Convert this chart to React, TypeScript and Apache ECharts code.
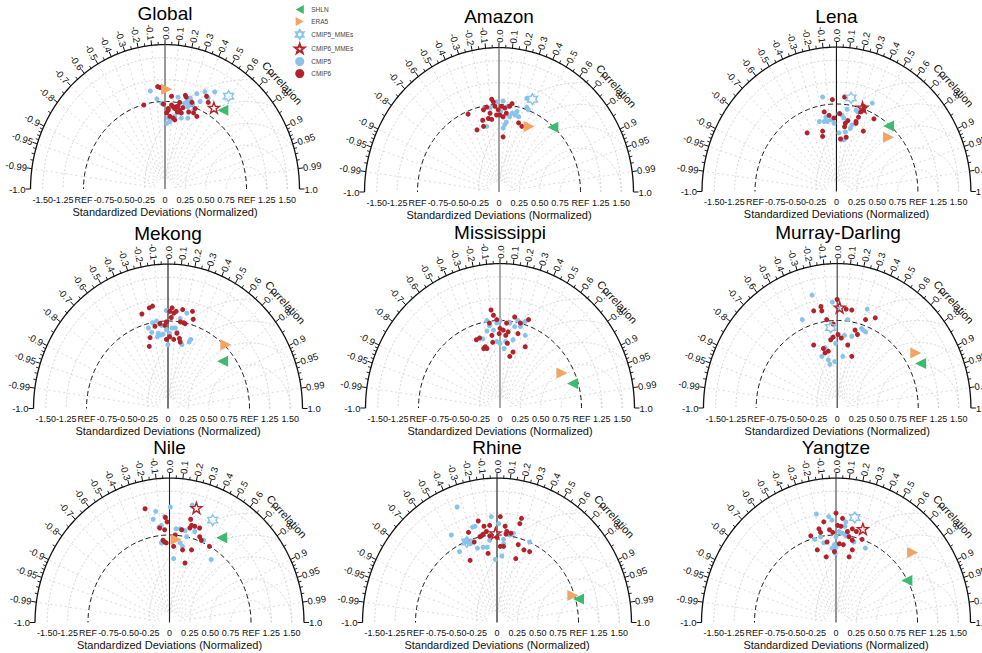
import { useEffect, useRef } from 'react';
import * as echarts from 'echarts';

// Basins, one Taylor diagram each
const basins = ['Global', 'Amazon', 'Lena', 'Mekong', 'Mississippi', 'Murray-Darling', 'Nile', 'Rhine', 'Yangtze'];

// Every point is (σ·R, σ·√(1−R²)): normalized standard deviation σ at correlation R,
// placed on the Taylor half-plane.
const globalCmip6 = [[-0.09, 1.17], [-0.06, 1.16], [-0.26, 0.96], [0.04, 0.92], [0.08, 1.06], [0.1, 0.94], [0.14, 0.94], [0.16, 0.95], [0.12, 0.92], [0.18, 0.9], [0.15, 0.88], [0.25, 1.07], [0.26, 1.05], [0.37, 0.92], [0.39, 0.83], [0.35, 0.87], [0.51, 1.06], [0.53, 0.99], [0.06, 0.83], [0.1, 0.81], [0.12, 0.79], [0.04, 0.9], [0.02, 0.87], [0.2, 0.87], [0.29, 0.88], [0.33, 0.99], [0.18, 0.99], [0.22, 0.93], [0.08, 0.96], [-0.02, 0.97]];
const globalCmip5 = [[-0.18, 1.12], [-0.1, 1.03], [-0.04, 0.98], [0.06, 0.77], [0.04, 0.81], [0.18, 0.87], [0.2, 0.81], [0.27, 1.0], [0.3, 0.96], [0.32, 1.01], [0.28, 0.94], [0.34, 0.97], [0.35, 0.9], [0.39, 1.09], [0.43, 1.0], [0.49, 1.11], [0.61, 1.11], [0.53, 1.04], [0.28, 0.81], [0.16, 1.05], [0.24, 0.98], [0.31, 1.04], [0.02, 0.75], [0.12, 0.83]];

const amazonCmip6 = [[-0.38, 0.89], [-0.27, 0.71], [-0.19, 0.75], [-0.2, 0.82], [-0.19, 0.94], [-0.07, 1.03], [-0.05, 0.98], [-0.01, 0.94], [-0.03, 0.88], [-0.11, 0.9], [-0.13, 0.84], [0.05, 0.86], [0.01, 0.88], [0.03, 0.98], [0.07, 0.96], [0.09, 0.9], [0.13, 0.98], [0.16, 1.01], [-0.09, 0.83], [-0.15, 0.97], [0.05, 0.63], [0.24, 0.79], [0.28, 0.75], [-0.09, 1.06]];
const amazonCmip5 = [[0.34, 1.07], [0.36, 0.94], [0.05, 1.04], [-0.03, 1.03], [0.09, 0.97], [0.16, 0.9], [0.2, 0.88], [0.24, 0.86], [0.22, 0.92], [-0.15, 0.75], [0.07, 0.77], [0.05, 0.73], [-0.11, 0.96], [0.34, 0.97], [0.13, 0.86], [0.09, 0.8], [0.02, 0.92]];

const lenaCmip6 = [[-0.05, 1.05], [0.1, 1.08], [-0.15, 0.91], [-0.09, 0.87], [-0.03, 0.84], [-0.36, 0.67], [-0.17, 0.69], [-0.17, 0.63], [0.11, 0.78], [0.1, 0.74], [0.14, 0.81], [0.24, 0.8], [0.24, 0.78], [0.27, 0.85], [0.3, 0.91], [0.33, 0.93], [0.34, 0.97], [0.46, 0.83], [0.33, 0.69], [0.05, 0.6], [0.12, 0.62], [0.04, 0.89]];
const lenaCmip5 = [[-0.17, 1.08], [-0.21, 0.8], [-0.15, 0.8], [-0.11, 0.8], [-0.13, 0.85], [-0.07, 0.82], [-0.03, 0.78], [0.03, 0.89], [0.07, 0.87], [0.09, 0.84], [0.13, 0.94], [0.24, 0.93], [0.26, 0.91], [0.19, 0.76], [0.17, 0.72], [0.11, 0.68], [0.03, 0.67], [0.09, 0.59], [0.44, 1.01]];

const mekongCmip6 = [[-0.32, 1.08], [-0.23, 1.15], [-0.19, 1.17], [0.05, 1.15], [0.02, 1.11], [0.07, 1.09], [0.1, 1.11], [0.18, 1.13], [0.3, 1.11], [0.15, 0.99], [0.19, 0.98], [0.21, 0.97], [0.31, 1.02], [-0.02, 0.99], [-0.04, 0.95], [-0.1, 0.97], [-0.16, 0.94], [-0.22, 0.81], [-0.23, 0.71], [0.02, 0.82], [-0.02, 0.79], [0.07, 0.79], [0.15, 0.76], [0.14, 0.8], [0.11, 0.86], [0.04, 1.04]];
const mekongCmip5 = [[-0.02, 1.12], [0.23, 1.09], [0.15, 1.03], [-0.19, 0.98], [-0.14, 1.0], [-0.24, 0.92], [-0.2, 0.87], [-0.12, 0.86], [-0.09, 0.84], [-0.06, 0.85], [-0.13, 0.82], [-0.02, 0.9], [0.05, 0.92], [0.09, 0.92], [0.02, 0.86], [0.11, 0.87], [0.0, 0.73], [0.17, 0.73], [0.26, 0.76], [0.28, 0.79], [-0.08, 0.95]];

const mississippiCmip6 = [[-0.11, 1.12], [-0.08, 1.06], [-0.04, 1.01], [-0.13, 0.97], [0.18, 1.04], [0.35, 1.01], [0.25, 0.97], [0.08, 0.97], [0.04, 0.89], [0.1, 0.87], [0.07, 0.83], [0.22, 0.85], [-0.01, 0.85], [-0.1, 0.83], [-0.09, 0.75], [-0.25, 0.8], [-0.29, 0.78], [-0.18, 0.7], [-0.16, 0.68], [-0.2, 0.68], [0.09, 0.74], [0.16, 0.64], [0.12, 0.59], [0.31, 0.7], [0.0, 0.91]];
const mississippiCmip5 = [[-0.16, 1.0], [-0.13, 0.94], [-0.16, 0.88], [-0.08, 0.89], [-0.04, 0.97], [0.0, 1.0], [0.12, 0.97], [0.22, 1.0], [0.27, 0.97], [0.31, 0.99], [0.18, 0.93], [0.25, 0.93], [0.31, 0.83], [0.16, 0.78], [0.07, 0.76], [-0.04, 0.76], [0.0, 0.74], [0.05, 0.68], [-0.21, 0.79]];

const murrayCmip6 = [[-0.29, 1.11], [-0.19, 1.11], [0.0, 1.24], [0.11, 1.13], [0.18, 1.12], [-0.13, 1.01], [-0.05, 0.96], [0.22, 0.89], [0.25, 0.84], [0.35, 1.01], [0.47, 1.03], [-0.29, 0.72], [-0.17, 0.68], [-0.11, 0.65], [-0.15, 0.63], [-0.08, 0.78], [-0.05, 0.81], [0.05, 0.8], [0.01, 0.84], [0.13, 0.72], [0.18, 0.59], [-0.2, 1.16]];
const murrayCmip5 = [[-0.31, 1.29], [-0.43, 1.01], [-0.06, 1.21], [0.01, 1.14], [0.13, 1.01], [0.37, 1.13], [0.3, 0.91], [0.35, 0.87], [0.32, 0.89], [0.18, 0.82], [0.09, 0.83], [-0.15, 0.69], [-0.19, 0.59], [-0.09, 0.5], [-0.11, 0.55], [-0.03, 0.53], [0.07, 0.59], [-0.02, 0.74]];

const nileCmip6 = [[-0.3, 1.3], [-0.03, 1.15], [0.26, 1.18], [0.27, 1.11], [0.25, 1.08], [0.31, 1.1], [0.37, 1.08], [0.37, 0.98], [0.39, 0.94], [0.49, 0.87], [0.15, 1.06], [0.07, 1.0], [-0.08, 0.94], [-0.06, 0.92], [-0.04, 0.91], [0.05, 0.87], [0.16, 0.83], [0.19, 0.68], [0.27, 0.83], [-0.12, 1.08], [-0.06, 1.06], [-0.05, 1.2]];
const nileCmip5 = [[0.01, 1.32], [-0.17, 1.27], [-0.06, 1.21], [-0.2, 1.18], [-0.1, 1.11], [-0.13, 1.09], [0.28, 1.34], [0.08, 1.07], [0.13, 1.07], [0.19, 1.05], [0.21, 0.98], [0.42, 0.94], [-0.1, 0.91], [0.13, 0.91], [0.16, 0.87], [0.05, 0.73], [0.51, 0.72], [0.31, 1.04]];

const rhineCmip6 = [[-0.23, 1.16], [-0.16, 1.1], [-0.09, 1.11], [-0.13, 1.04], [-0.17, 1.01], [-0.35, 1.03], [-0.21, 0.98], [-0.19, 0.99], [-0.28, 0.92], [0.04, 1.21], [0.1, 1.1], [0.12, 1.04], [0.11, 1.01], [0.3, 1.19], [0.28, 1.13], [0.17, 1.02], [0.04, 0.87], [0.08, 0.87], [0.26, 0.89], [0.33, 0.83], [0.4, 0.81], [-0.11, 0.79], [-0.33, 0.71], [0.23, 0.73], [-0.09, 0.99], [0.0, 0.97]];
const rhineCmip5 = [[-0.49, 1.32], [-0.07, 1.21], [0.02, 1.13], [-0.3, 1.09], [-0.27, 1.1], [-0.37, 0.95], [-0.39, 0.92], [-0.35, 0.91], [-0.33, 0.9], [-0.56, 1.0], [-0.46, 0.81], [-0.24, 0.85], [-0.17, 0.86], [-0.12, 0.86], [-0.09, 0.94], [0.08, 0.95], [0.16, 1.0], [0.2, 1.02], [0.4, 0.92], [-0.02, 0.72], [0.06, 0.76], [0.08, 0.9]];

const yangtzeCmip6 = [[0.0, 1.25], [0.08, 1.19], [-0.15, 1.15], [0.02, 1.11], [0.06, 1.1], [-0.08, 1.06], [-0.04, 1.03], [-0.21, 1.07], [-0.19, 1.03], [-0.31, 0.99], [-0.11, 0.92], [0.04, 0.9], [0.14, 1.04], [0.2, 1.07], [0.25, 1.04], [0.16, 0.98], [0.2, 0.94], [0.32, 0.95], [0.09, 0.89], [0.2, 0.83], [-0.23, 0.83], [-0.12, 0.75], [-0.02, 0.81], [0.16, 0.75]];
const yangtzeCmip5 = [[-0.24, 1.24], [-0.09, 1.21], [-0.05, 1.17], [0.12, 1.15], [0.11, 1.1], [-0.19, 0.98], [-0.26, 0.95], [-0.15, 0.91], [0.08, 1.02], [0.12, 0.99], [0.14, 1.03], [0.0, 0.98], [-0.02, 0.89], [-0.05, 0.85], [0.0, 0.86], [0.22, 0.92], [0.36, 0.85], [-0.01, 0.79], [0.04, 1.04]];

const cmip6Runs = [globalCmip6, amazonCmip6, lenaCmip6, mekongCmip6, mississippiCmip6, murrayCmip6, nileCmip6, rhineCmip6, yangtzeCmip6];
const cmip5Runs = [globalCmip5, amazonCmip5, lenaCmip5, mekongCmip5, mississippiCmip5, murrayCmip5, nileCmip5, rhineCmip5, yangtzeCmip5];

// Reference products and ensemble means, in basin order (null = not shown)
const era5 = [[0.02, 1.14], [0.37, 0.75], [0.64, 0.62], [0.71, 0.73], [0.76, 0.4], [0.97, 0.63], [0.08, 0.95], [0.93, 0.31], [0.94, 0.8]];
const shln = [[0.71, 0.9], [0.66, 0.74], [0.64, 0.75], [0.67, 0.54], [0.89, 0.28], [1.03, 0.51], [0.64, 0.97], [1.0, 0.27], [0.87, 0.48]];
const cmip5Mme = [[0.78, 1.06], [0.41, 1.06], [0.18, 1.07], null, null, [-0.08, 0.92], [0.53, 1.17], [-0.37, 0.92], [0.23, 1.2]];
const cmip6Mme = [[0.6, 0.93], null, [0.32, 0.96], null, null, [0.03, 1.15], [0.33, 1.31], [-0.02, 1.02], [0.33, 1.07]];

// Correlation scale on the outer arc
const corrTicks = [1, 0.99, 0.95, 0.9, 0.8, 0.7, 0.6, 0.5, 0.4, 0.3, 0.2, 0.1, 0, -0.1, -0.2, -0.3, -0.4, -0.5, -0.6, -0.7, -0.8, -0.9, -0.95, -0.99, -1];
const corrMinor = [0.98, 0.97, 0.96, 0.94, 0.93, 0.92, 0.91, 0.85, 0.75, 0.65, 0.55, 0.45, 0.35, 0.25, 0.15, 0.05, -0.05, -0.15, -0.25, -0.35, -0.45, -0.55, -0.65, -0.75, -0.85, -0.91, -0.92, -0.93, -0.94, -0.96, -0.97, -0.98];
const stdGuides = [1.25, 1.5];
const rmsdGuides = [0.25, 0.5, 0.75, 1, 1.25];

// Layout: origin pixel of each diagram, pixels per unit along x and y
const origins = [[165, 189], [499, 192], [836.5, 191.5], [168, 408.5], [500, 408], [838, 408], [169.5, 622.5], [497, 622.5], [836, 622.5]];
const zeroLine = [
  { color: '#8e8e8e', width: 1.8 }, { color: '#9a9a9a', width: 1.8 }, { color: '#111', width: 1.1 },
  { color: '#111', width: 1.1 }, { color: '#a0a0a0', width: 1.8 }, { color: '#333', width: 1.1 },
  { color: '#222', width: 1.1 }, { color: '#111', width: 1.1 }, { color: '#444', width: 1.1 },
];
const UX = 81.5;
const UY = 87.5;
const SPAN = 1.75;
const R_OUT = 1.65;

const FONT = '"Liberation Sans", Arial, Helvetica, sans-serif';
const RED = '#b3222a';
const BLUE = '#88c3ee';
const GREEN = '#3dba6f';
const ORANGE = '#f2a462';
const STAR = 'path://M50 0 L61.76 33.82 L97.55 34.55 L69.02 56.18 L79.39 90.45 L50 70 L20.61 90.45 L30.98 56.18 L2.45 34.55 L38.24 33.82 Z';
const HEXAGRAM = 'path://M50 0 L64.43 25 L93.3 25 L78.87 50 L93.3 75 L64.43 75 L50 100 L35.57 75 L6.7 75 L21.13 50 L6.7 25 L35.57 25 Z';
const TRI_LEFT = 'path://M0 50 L90 0 L90 100 Z';
const TRI_RIGHT = 'path://M90 50 L0 0 L0 100 Z';

const corrLabel = (c: number) =>
  Math.abs(c * 10 - Math.round(c * 10)) < 1e-9 ? c.toFixed(1) : c.toFixed(2);

const stdLabel = (v: number) => {
  if (Math.abs(Math.abs(v) - 1) < 1e-9) return 'REF';
  if (Math.abs(v) > 1.6) return '';
  if (Math.abs(v) < 1e-9) return '0';
  return v.toFixed(2);
};

// Draws the diagram frame: guides, correlation arc, ticks and their labels
function frameRenderer(zero: { color: string; width: number }) {
  return (_params: any, api: any) => {
    const o = api.coord([0, 0]);
    const at = (r: number, t: number) => api.coord([r * Math.cos(t), r * Math.sin(t)]);
    const ring = (r: number) => {
      const pts = [];
      for (let k = 0; k <= 180; k++) pts.push(at(r, (Math.PI * k) / 180));
      return pts;
    };
    const guide = { stroke: '#cdcdcd', lineWidth: 0.8, lineDash: [2, 2], fill: 'none' };
    const kids: any[] = [];

    stdGuides.forEach((r) => kids.push({ type: 'polyline', shape: { points: ring(r) }, style: guide }));
    rmsdGuides.forEach((rho) => {
      const pts = [];
      for (let k = 0; k <= 180; k++) {
        const f = (Math.PI * k) / 180;
        const x = 1 + rho * Math.cos(f);
        const y = rho * Math.sin(f);
        if (Math.hypot(x, y) <= R_OUT) pts.push(api.coord([x, y]));
      }
      kids.push({ type: 'polyline', shape: { points: pts }, style: guide });
    });
    // radial correlation guides; staggered dash phase keeps the hub clean
    corrTicks
      .filter((c) => Math.abs(c) < 1 && c !== 0)
      .forEach((c, k) => {
        const t = Math.acos(c);
        const a = at(0.12, t);
        const p = at(R_OUT, t);
        kids.push({
          type: 'line',
          shape: { x1: a[0], y1: a[1], x2: p[0], y2: p[1] },
          style: { stroke: '#d2d2d2', lineWidth: 0.8, lineDash: [2, 3], lineDashOffset: (k * 1.7) % 5 },
        });
      });

    kids.push({ type: 'polyline', shape: { points: ring(1) }, style: { stroke: '#111', lineWidth: 1, lineDash: [5, 3], fill: 'none' } });
    kids.push({ type: 'polyline', shape: { points: ring(R_OUT) }, style: { stroke: '#111', lineWidth: 1.3, fill: 'none' } });
    const top = at(R_OUT, Math.PI / 2);
    kids.push({ type: 'line', shape: { x1: o[0], y1: o[1], x2: top[0], y2: top[1] }, style: { stroke: zero.color, lineWidth: zero.width } });

    const radial = (c: number) => {
      const p = at(R_OUT, Math.acos(c));
      const dx = p[0] - o[0];
      const dy = p[1] - o[1];
      const n = Math.hypot(dx, dy);
      return { p, ux: dx / n, uy: dy / n };
    };
    corrMinor.forEach((c) => {
      const { p, ux, uy } = radial(c);
      kids.push({ type: 'line', shape: { x1: p[0], y1: p[1], x2: p[0] + ux * 3, y2: p[1] + uy * 3 }, style: { stroke: '#111', lineWidth: 0.9 } });
    });
    corrTicks.forEach((c) => {
      const { p, ux, uy } = radial(c);
      kids.push({ type: 'line', shape: { x1: p[0], y1: p[1], x2: p[0] + ux * 5, y2: p[1] + uy * 5 }, style: { stroke: '#111', lineWidth: 1 } });
      // angle of the radial direction, kept within [0, π]
      let ang = Math.atan2(-uy, ux);
      if (ang < -1e-6) ang += 2 * Math.PI;
      ang = Math.max(0, Math.min(Math.PI, ang));
      const rightSide = c >= 0;
      kids.push({
        type: 'text',
        x: p[0] + ux * 5,
        y: p[1] + uy * 5,
        rotation: rightSide ? ang : ang - Math.PI,
        style: {
          text: corrLabel(c),
          fontSize: 9.5,
          fontFamily: FONT,
          fill: '#111',
          align: rightSide ? 'left' : 'right',
          verticalAlign: 'middle',
        },
      });
    });

    const cp = at(1.88, 0.7);
    const ca = Math.atan2(o[1] - cp[1], cp[0] - o[0]);
    kids.push({
      type: 'text',
      x: cp[0],
      y: cp[1],
      rotation: ca - Math.PI / 2,
      style: { text: 'Correlation', fontSize: 11, fontFamily: FONT, fill: '#111', align: 'center', verticalAlign: 'middle' },
    });
    return { type: 'group', children: kids };
  };
}

function buildOption() {
  const grid: any[] = [];
  const xAxis: any[] = [];
  const yAxis: any[] = [];
  const title: any[] = [];
  const series: any[] = [];

  basins.forEach((name, i) => {
    const [cx, by] = origins[i];
    grid.push({ left: cx - SPAN * UX, top: by - SPAN * UY, width: 2 * SPAN * UX, height: SPAN * UY });
    xAxis.push({
      type: 'value',
      gridIndex: i,
      min: -SPAN,
      max: SPAN,
      interval: 0.25,
      axisLine: { show: false },
      axisTick: { show: false },
      splitLine: { show: false },
      axisLabel: { formatter: stdLabel, fontSize: 9, color: '#111', margin: 6, fontFamily: FONT },
      name: 'Standardized Deviations (Normalized)',
      nameLocation: 'middle',
      nameGap: 17,
      nameTextStyle: { fontSize: 11, color: '#111', fontFamily: FONT },
    });
    yAxis.push({ type: 'value', gridIndex: i, min: 0, max: SPAN, show: false });
    title.push({
      text: name,
      left: cx,
      top: by - 185,
      textAlign: 'center',
      padding: 0,
      textStyle: { fontSize: 19, fontWeight: 'normal', color: '#000', fontFamily: FONT },
    });

    const axes = { xAxisIndex: i, yAxisIndex: i };
    series.push({ type: 'custom', ...axes, data: [[0, 0]], renderItem: frameRenderer(zeroLine[i]), silent: true, z: 1 });
    series.push({ type: 'scatter', name: 'CMIP5', ...axes, data: cmip5Runs[i], symbol: 'circle', symbolSize: 5, itemStyle: { color: BLUE, opacity: 1 }, z: 3 });
    series.push({ type: 'scatter', name: 'CMIP6', ...axes, data: cmip6Runs[i], symbol: 'circle', symbolSize: 5, itemStyle: { color: RED, opacity: 1 }, z: 3 });
    series.push({
      type: 'scatter', name: 'CMIP5_MMEs', ...axes,
      data: cmip5Mme[i] ? [cmip5Mme[i]] : [],
      symbol: HEXAGRAM, symbolSize: [10, 11],
      itemStyle: { color: 'rgba(255,255,255,0)', borderColor: BLUE, borderWidth: 1.4, opacity: 1 }, z: 4,
    });
    series.push({
      type: 'scatter', name: 'CMIP6_MMEs', ...axes,
      data: cmip6Mme[i] ? [cmip6Mme[i]] : [],
      symbol: STAR, symbolSize: [11, 11],
      itemStyle: { color: 'rgba(255,255,255,0)', borderColor: RED, borderWidth: 1.4, opacity: 1 }, z: 4,
    });
    series.push({ type: 'scatter', name: 'ERA5', ...axes, data: [era5[i]], symbol: TRI_RIGHT, symbolSize: [11, 11], itemStyle: { color: ORANGE, opacity: 1 }, z: 5 });
    series.push({ type: 'scatter', name: 'SHLN', ...axes, data: [shln[i]], symbol: TRI_LEFT, symbolSize: [11, 11], itemStyle: { color: GREEN, opacity: 1 }, z: 5 });
  });

  return {
    animation: false,
    backgroundColor: '#ffffff',
    title,
    grid,
    xAxis,
    yAxis,
    legend: {
      data: ['SHLN', 'ERA5', 'CMIP5_MMEs', 'CMIP6_MMEs', 'CMIP5', 'CMIP6'],
      orient: 'vertical',
      left: 294,
      top: 5,
      padding: 0,
      itemWidth: 13,
      itemHeight: 9,
      itemGap: 3,
      textStyle: { fontSize: 6.5, color: '#444', fontFamily: FONT },
    },
    series,
  };
}

export default function App() {
  const ref = useRef<HTMLDivElement>(null);

  useEffect(() => {
    document.body.style.margin = '0';
    if (!ref.current) return;
    const chart = echarts.init(ref.current, undefined, { renderer: 'svg' });
    chart.setOption(buildOption() as any);
    return () => chart.dispose();
  }, []);

  return <div ref={ref} style={{ width: 982, height: 653, position: 'absolute', left: 0, top: 0 }} />;
}
